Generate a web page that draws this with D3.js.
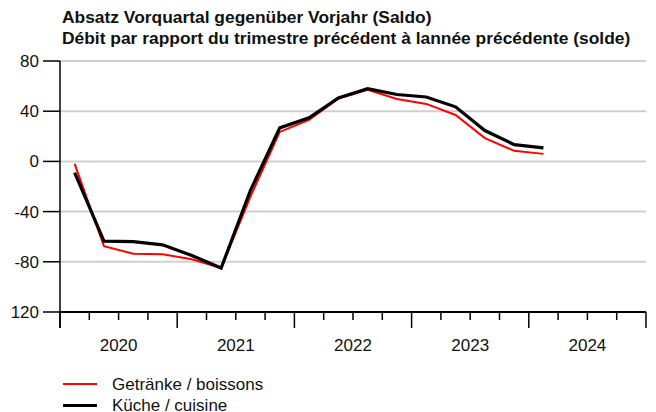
<!DOCTYPE html>
<html>
<head>
<meta charset="utf-8">
<script src="https://cdn.jsdelivr.net/npm/d3@7"></script>
<style>
  body { margin: 0; background: #fff; }
  svg { display: block; font-family: 'Liberation Sans', Arial, sans-serif; }
</style>
</head>
<body>
<div id='chart'></div>
<script>

// Data
const quarters = ['2020Q1','2020Q2','2020Q3','2020Q4','2021Q1','2021Q2','2021Q3','2021Q4',
                  '2022Q1','2022Q2','2022Q3','2022Q4','2023Q1','2023Q2','2023Q3','2023Q4','2024Q1'];
const getraenke = [-2, -67.5, -73.5, -74, -78, -85, -28, 23.5, 33, 50, 57, 49.7, 45.8, 37, 18.6, 8.4, 6];
const kueche = [-9, -63.6, -64, -66.5, -75, -85, -23, 26.7, 34.7, 50.5, 58, 53.3, 51.3, 43.5, 24.6, 13.4, 10.8];
const years = [2020, 2021, 2022, 2023, 2024];
const yTicks = [80, 40, 0, -40, -80, -120];
const yTickLabels = ['80', '40', '0', '-40', '-80', '120'];
const titleLines = ['Absatz Vorquartal gegenüber Vorjahr (Saldo)',
                    'Débit par rapport du trimestre précédent à lannée précédente (solde)'];
const seriesNames = ['Getränke / boissons', 'Küche / cuisine'];

// Page Dimensions
const W = 656, H = 412;

const svg = d3.select('div#chart').append('svg')
  .attr('width', W)
  .attr('height', H);

const x = d3.scaleLinear().domain([2020, 2025]).range([60, 646]);
const y = d3.scaleLinear().domain([-120, 80]).range([312, 61]);

const qPos = q => +q.slice(0, 4) + (+q.slice(5) - 0.5) / 4;

// Title
svg.append('g').selectAll('text')
  .data(titleLines)
  .enter().append('text')
  .attr('x', 62)
  .attr('y', (d, i) => 22.5 + i * 21.5)
  .attr('font-weight', 'bold')
  .attr('font-size', '17.4px')
  .attr('fill', '#111')
  .text(d => d);

// Gridlines
svg.append('g').selectAll('line')
  .data(yTicks.filter(v => v > -120))
  .enter().append('line')
  .attr('x1', x(2020)).attr('x2', x(2025))
  .attr('y1', d => y(d)).attr('y2', d => y(d))
  .style('stroke', '#cfcfcf')
  .style('stroke-width', 2);

// Y axis
const yAxis = svg.append('g');
yAxis.append('line')
  .attr('x1', x(2020)).attr('x2', x(2020))
  .attr('y1', y(80)).attr('y2', y(-120) + 16)
  .style('stroke', '#000').style('stroke-width', 1.5);
yAxis.selectAll('line.tick')
  .data(yTicks)
  .enter().append('line')
  .attr('class', 'tick')
  .attr('x1', x(2020) - 17).attr('x2', x(2020))
  .attr('y1', d => y(d)).attr('y2', d => y(d))
  .style('stroke', '#000').style('stroke-width', 1.5);
yAxis.selectAll('text')
  .data(yTicks)
  .enter().append('text')
  .attr('x', 39)
  .attr('y', d => y(d))
  .attr('dy', '0.35em')
  .attr('text-anchor', 'end')
  .attr('font-size', '17px')
  .attr('fill', '#111')
  .text((d, i) => yTickLabels[i]);

// X axis
const xAxis = svg.append('g');
xAxis.append('line')
  .attr('x1', x(2020)).attr('x2', x(2025))
  .attr('y1', y(-120)).attr('y2', y(-120))
  .style('stroke', '#000').style('stroke-width', 2);
const qTicks = d3.range(0, 21).map(i => 2020 + i / 4);
xAxis.selectAll('line.tick')
  .data(qTicks)
  .enter().append('line')
  .attr('class', 'tick')
  .attr('x1', d => x(d)).attr('x2', d => x(d))
  .attr('y1', y(-120))
  .attr('y2', (d, i) => y(-120) + (i % 4 === 0 ? 16 : 8))
  .style('stroke', '#000').style('stroke-width', 1.5);
xAxis.selectAll('text')
  .data(years)
  .enter().append('text')
  .attr('x', d => x(d + 0.5))
  .attr('y', 345)
  .attr('dy', '0.35em')
  .attr('text-anchor', 'middle')
  .attr('font-size', '17px')
  .attr('fill', '#111')
  .text(d => d);

// Lines
const line = d3.line()
  .x((d, i) => x(qPos(quarters[i])))
  .y(d => y(d));

svg.append('path')
  .datum(getraenke)
  .attr('d', line)
  .style('fill', 'none')
  .style('stroke', '#ff0000')
  .style('stroke-width', 2);

svg.append('path')
  .datum(kueche)
  .attr('d', line)
  .style('fill', 'none')
  .style('stroke', '#000')
  .style('stroke-width', 3.2);

// Legend
const legendColors = ['#ff0000', '#000'];
const legendWidths = [2, 3.2];
const legend = svg.append('g').selectAll('g')
  .data(seriesNames)
  .enter().append('g')
  .attr('transform', (d, i) => `translate(63,${384 + i * 21.5})`);
legend.append('line')
  .attr('x1', 0).attr('x2', 34)
  .style('stroke', (d, i) => legendColors[i])
  .style('stroke-width', (d, i) => legendWidths[i]);
legend.append('text')
  .attr('x', 49)
  .attr('dy', '0.35em')
  .attr('font-size', '17px')
  .attr('fill', '#111')
  .text(d => d);

</script>
</body>
</html>
